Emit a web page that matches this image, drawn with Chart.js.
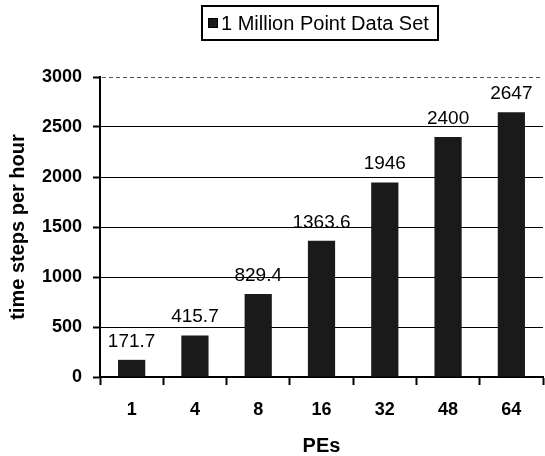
<!DOCTYPE html>
<html>
<head>
<meta charset="utf-8">
<title>Time steps per hour</title>
<script src="https://cdn.jsdelivr.net/npm/chart.js@4/dist/chart.umd.min.js"></script>
<style>
  html, body { margin: 0; padding: 0; background: #fff; }
  canvas { display: block; }
</style>
</head>
<body>
<canvas id="peChart" width="545" height="456"></canvas>
<script>
const FONT = "'Liberation Sans', Arial, sans-serif";

// data
const peCounts = ['1', '4', '8', '16', '32', '48', '64'];
const stepsPerHour = [171.7, 415.7, 829.4, 1363.6, 1946, 2400, 2647];
const seriesName = '1 Million Point Data Set';
const yTicks = [0, 500, 1000, 1500, 2000, 2500, 3000];

const BAR_COLOR = '#1a1a1a';

// boxed legend at the top
const boxLegend = {
  id: 'boxLegend',
  afterDraw(chart) {
    const c = chart.ctx;
    c.save();
    c.lineWidth = 2;
    c.strokeStyle = '#000';
    c.strokeRect(202, 6, 236, 34);
    c.fillStyle = BAR_COLOR;
    c.fillRect(208, 18, 10, 10);
    c.lineWidth = 1;
    c.strokeRect(208.5, 18.5, 9, 9);
    c.fillStyle = '#000';
    c.font = '20px ' + FONT;
    c.textBaseline = 'middle';
    c.textAlign = 'left';
    c.fillText(chart.data.datasets[0].label, 221, 24);
    c.restore();
  }
};

// dashed line along the top of the plot
const topLine = {
  id: 'topLine',
  beforeDatasetsDraw(chart) {
    const { ctx: c, chartArea: a } = chart;
    const y = chart.scales.y.getPixelForValue(yTicks[yTicks.length - 1]);
    c.save();
    c.strokeStyle = '#555';
    c.lineWidth = 1;
    c.setLineDash([4, 3]);
    c.beginPath();
    c.moveTo(a.left + 2, y + 0.5);
    c.lineTo(a.right, y + 0.5);
    c.stroke();
    c.restore();
  }
};

// value above each bar
const barValues = {
  id: 'barValues',
  afterDatasetsDraw(chart) {
    const c = chart.ctx;
    const meta = chart.getDatasetMeta(0);
    c.save();
    c.fillStyle = '#000';
    c.font = '19px ' + FONT;
    c.textAlign = 'center';
    c.textBaseline = 'alphabetic';
    meta.data.forEach((bar, i) => {
      c.fillText(String(stepsPerHour[i]), bar.x, bar.y - 13);
    });
    c.restore();
  }
};

new Chart(document.getElementById('peChart'), {
  type: 'bar',
  data: {
    labels: peCounts,
    datasets: [{
      label: seriesName,
      data: stepsPerHour,
      backgroundColor: BAR_COLOR,
      borderWidth: 0,
      categoryPercentage: 1,
      barPercentage: 0.43
    }]
  },
  options: {
    responsive: false,
    animation: false,
    layout: { padding: { left: 0, right: 2, top: 77, bottom: 0 } },
    plugins: {
      legend: { display: false },
      tooltip: { enabled: false }
    },
    scales: {
      x: {
        grid: {
          offset: true,
          drawOnChartArea: false,
          drawTicks: true,
          tickLength: 8,
          tickWidth: 2,
          tickColor: '#000'
        },
        border: { color: '#000', width: 2 },
        ticks: {
          color: '#000',
          padding: 14,
          font: { family: FONT, size: 18, weight: 'bold' }
        },
        title: {
          display: true,
          text: 'PEs',
          color: '#000',
          padding: { top: 0, bottom: 0 },
          font: { family: FONT, size: 20, weight: 'bold', lineHeight: 1 }
        },
        afterFit(scale) { scale.height = 79; }
      },
      y: {
        min: 0,
        max: 3000,
        afterBuildTicks(scale) { scale.ticks = yTicks.map(v => ({ value: v })); },
        grid: {
          color: ctx => (ctx.tick && ctx.tick.value === 3000) ? 'rgba(0,0,0,0)' : '#000',
          lineWidth: 1,
          tickLength: 7,
          tickWidth: 2,
          tickColor: '#000'
        },
        border: { color: '#000', width: 2 },
        ticks: {
          color: '#000',
          padding: 11,
          callback: v => String(v),
          font: { family: FONT, size: 18, weight: 'bold' }
        },
        title: {
          display: true,
          text: 'time steps per hour',
          color: '#000',
          padding: { top: 6, bottom: 0 },
          font: { family: FONT, size: 20, weight: 'bold' }
        },
        afterFit(scale) { scale.width = 100; }
      }
    }
  },
  plugins: [topLine, barValues, boxLegend]
});
</script>
</body>
</html>
